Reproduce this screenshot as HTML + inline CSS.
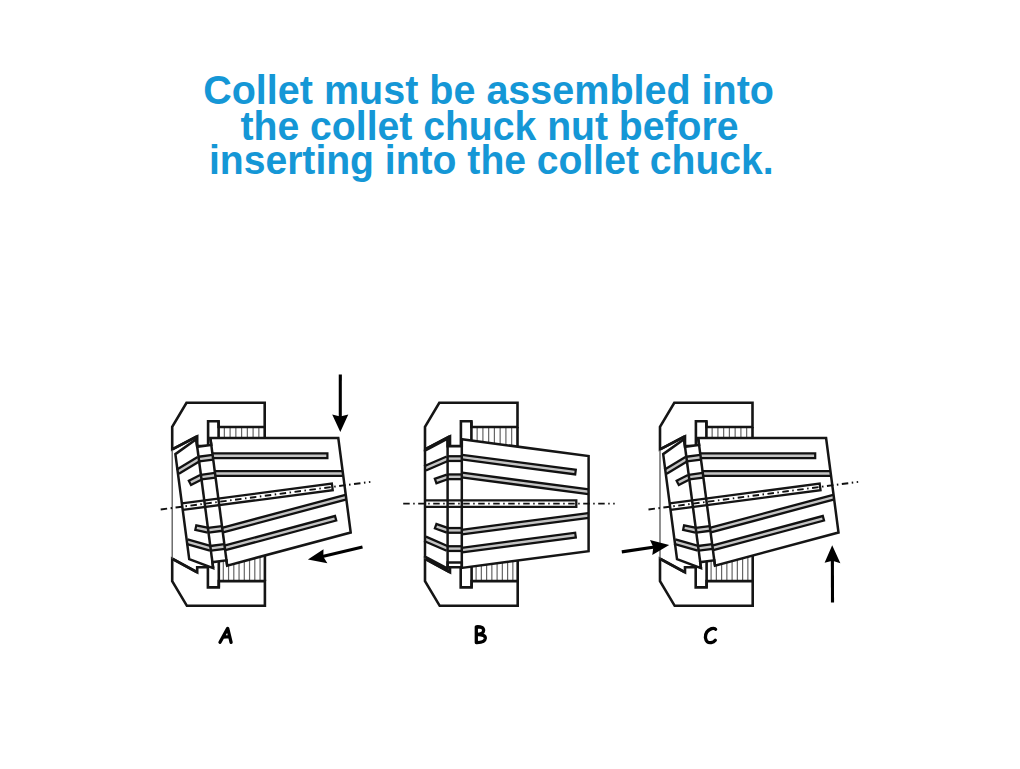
<!DOCTYPE html>
<html><head><meta charset="utf-8">
<style>
html,body{margin:0;padding:0;background:#fff;width:1020px;height:769px;overflow:hidden;position:relative}
.t{position:absolute;left:0;width:980px;text-align:center;font-family:"Liberation Sans",sans-serif;font-weight:bold;color:#1597d6;font-size:41.5px;line-height:35px;white-space:nowrap;transform-origin:490px 0}
svg{position:absolute;left:0;top:0;}
.o{fill:#fff;stroke:#151515;stroke-width:2.6;stroke-linejoin:miter}
.lip{stroke:#151515;stroke-width:2.7}
.ol{stroke:#151515;stroke-width:2.6;fill:none}
.thin{stroke:#555;stroke-width:1.3}
.kn{stroke:#666;stroke-width:1.2}
.cf{fill:#fff;stroke:none}
.cstroke{fill:none;stroke:#151515;stroke-width:2.5}
.cl{stroke:#151515;stroke-width:2.5}
.sb{stroke:#111;stroke-width:7;stroke-linecap:round}
.sw{stroke:#aaa;stroke-width:2.4;stroke-linecap:round}
.sbb{stroke:#111;stroke-width:7}
.swb{stroke:#c4c4c4;stroke-width:2.4}
.cs{fill:#fff;stroke:#151515;stroke-width:2.3}
.dd{stroke:#111;stroke-width:1.9;stroke-dasharray:6.5 3.5 1.5 3.5}
.ar{stroke:#000;stroke-width:3.1}
.ah{fill:#000}
.lb{fill:none;stroke:#000;stroke-width:3.3;stroke-linecap:round;stroke-linejoin:round}
</style></head><body>
<div class="t" style="top:72px;transform:translateX(-1.4px) scaleX(0.952)">Collet must be assembled into</div>
<div class="t" style="top:108px;transform:translateX(-0.5px) scaleX(0.943)">the collet chuck nut before</div>
<div class="t" style="top:142px;transform:translateX(1.3px) scaleX(0.942)">inserting into the collet chuck.</div>
<svg width="1020" height="769" viewBox="0 0 1020 769">
<line x1="224.35" y1="427" x2="224.35" y2="470" class="kn"/>
<line x1="230.1" y1="427" x2="230.1" y2="470" class="kn"/>
<line x1="235.85" y1="427" x2="235.85" y2="470" class="kn"/>
<line x1="241.6" y1="427" x2="241.6" y2="470" class="kn"/>
<line x1="247.35" y1="427" x2="247.35" y2="470" class="kn"/>
<line x1="253.1" y1="427" x2="253.1" y2="470" class="kn"/>
<line x1="258.85" y1="427" x2="258.85" y2="470" class="kn"/>
<line x1="223.3" y1="581.1" x2="223.3" y2="540" class="kn"/>
<line x1="228.55" y1="581.1" x2="228.55" y2="540" class="kn"/>
<line x1="233.8" y1="581.1" x2="233.8" y2="540" class="kn"/>
<line x1="239.05" y1="581.1" x2="239.05" y2="540" class="kn"/>
<line x1="244.3" y1="581.1" x2="244.3" y2="540" class="kn"/>
<line x1="249.55" y1="581.1" x2="249.55" y2="540" class="kn"/>
<line x1="254.8" y1="581.1" x2="254.8" y2="540" class="kn"/>
<line x1="260.05" y1="581.1" x2="260.05" y2="540" class="kn"/>
<polygon points="186.5,402.8 264.7,402.8 264.7,427 218.6,427 218.6,421.2 208.1,421.2 208.1,446.1 197.2,446.1 197.2,436.3 172.2,449.4 172.2,426.8" class="o"/>
<polygon points="186.9,605.8 264.9,605.8 264.9,581.1 218.8,581.1 218.8,587.4 207.9,587.4 207.9,567.3 197.2,567.3 197.2,572.3 172.2,558.7 172.2,581.1" class="o"/>
<path d="M264.7,427V470M218.6,421.2V470M264.9,581.1V540M218.8,587.4V540" class="ol"/>
<line x1="172.2" y1="449.4" x2="197.2" y2="436.3" class="lip"/>
<line x1="172.2" y1="558.7" x2="197.2" y2="572.3" class="lip"/>
<line x1="172.2" y1="450" x2="172.2" y2="558.7" class="thin"/>
<g transform="translate(344.5,485.3) rotate(-7.5)">
<polygon points="-163.6,-53 -141,-65 -141,-57.4 -126.8,-57.4 -126.8,-64.3 0,-47.6 0,47.6 -126.8,64.3 -126.8,59 -141,59 -141,65 -163.6,53" class="cf"/>
<line x1="-126.8" y1="-46.5" x2="-12" y2="-31.38" class="sbb"/>
<line x1="-126.8" y1="-46.5" x2="-14.18" y2="-31.67" class="swb"/>
<line x1="-126.8" y1="-28.55" x2="0" y2="-11.85" class="sbb"/>
<line x1="-126.8" y1="-28.55" x2="0" y2="-11.85" class="swb"/>
<line x1="-141" y1="-45" x2="-126.8" y2="-45" class="sbb"/>
<line x1="-141" y1="-45" x2="-126.8" y2="-45" class="swb"/>
<line x1="-141" y1="-26.8" x2="-126.8" y2="-26.8" class="sbb"/>
<line x1="-141" y1="-26.8" x2="-126.8" y2="-26.8" class="swb"/>
<line x1="-163.6" y1="-35.2" x2="-141" y2="-45" class="sbb"/>
<line x1="-163.6" y1="-35.2" x2="-141" y2="-45" class="swb"/>
<line x1="-141" y1="-26.8" x2="-154" y2="-22.2" class="sbb"/>
<line x1="-141" y1="-26.8" x2="-151.93" y2="-22.93" class="swb"/>
<line x1="-126.8" y1="46.5" x2="-12" y2="31.38" class="sbb"/>
<line x1="-126.8" y1="46.5" x2="-14.18" y2="31.67" class="swb"/>
<line x1="-126.8" y1="28.55" x2="0" y2="11.85" class="sbb"/>
<line x1="-126.8" y1="28.55" x2="0" y2="11.85" class="swb"/>
<line x1="-141" y1="45" x2="-126.8" y2="45" class="sbb"/>
<line x1="-141" y1="45" x2="-126.8" y2="45" class="swb"/>
<line x1="-141" y1="26.8" x2="-126.8" y2="26.8" class="sbb"/>
<line x1="-141" y1="26.8" x2="-126.8" y2="26.8" class="swb"/>
<line x1="-163.6" y1="35.2" x2="-141" y2="45" class="sbb"/>
<line x1="-163.6" y1="35.2" x2="-141" y2="45" class="swb"/>
<line x1="-141" y1="26.8" x2="-154" y2="22.2" class="sbb"/>
<line x1="-141" y1="26.8" x2="-151.93" y2="22.93" class="swb"/>
<path d="M-163.6,-3.3 H-12.3 V3.3 H-163.6" class="cs"/>
<polygon points="-163.6,-53 -141,-65 -141,-57.4 -126.8,-57.4 -126.8,-64.3 0,-47.6 0,47.6 -126.8,64.3 -126.8,59 -141,59 -141,65 -163.6,53" class="cstroke"/>
<line x1="-141" y1="-65" x2="-141" y2="65" class="cl"/>
<line x1="-126.8" y1="-64.3" x2="-126.8" y2="64.3" class="cl"/>
<line x1="-185.4" y1="0" x2="26.1" y2="0" class="dd"/>
</g>
<line x1="477.15" y1="427" x2="477.15" y2="470" class="kn"/>
<line x1="482.9" y1="427" x2="482.9" y2="470" class="kn"/>
<line x1="488.65" y1="427" x2="488.65" y2="470" class="kn"/>
<line x1="494.4" y1="427" x2="494.4" y2="470" class="kn"/>
<line x1="500.15" y1="427" x2="500.15" y2="470" class="kn"/>
<line x1="505.9" y1="427" x2="505.9" y2="470" class="kn"/>
<line x1="511.65" y1="427" x2="511.65" y2="470" class="kn"/>
<line x1="476.1" y1="581.1" x2="476.1" y2="540" class="kn"/>
<line x1="481.35" y1="581.1" x2="481.35" y2="540" class="kn"/>
<line x1="486.6" y1="581.1" x2="486.6" y2="540" class="kn"/>
<line x1="491.85" y1="581.1" x2="491.85" y2="540" class="kn"/>
<line x1="497.1" y1="581.1" x2="497.1" y2="540" class="kn"/>
<line x1="502.35" y1="581.1" x2="502.35" y2="540" class="kn"/>
<line x1="507.6" y1="581.1" x2="507.6" y2="540" class="kn"/>
<line x1="512.85" y1="581.1" x2="512.85" y2="540" class="kn"/>
<polygon points="439.3,402.8 517.5,402.8 517.5,427 471.4,427 471.4,421.2 460.9,421.2 460.9,446.1 450,446.1 450,436.3 425,449.4 425,426.8" class="o"/>
<polygon points="439.7,605.8 517.7,605.8 517.7,581.1 471.6,581.1 471.6,587.4 460.7,587.4 460.7,567.3 450,567.3 450,572.3 425,558.7 425,581.1" class="o"/>
<path d="M517.5,427V470M471.4,421.2V470M517.7,581.1V540M471.6,587.4V540" class="ol"/>
<line x1="425" y1="449.4" x2="450" y2="436.3" class="lip"/>
<line x1="425" y1="558.7" x2="450" y2="572.3" class="lip"/>
<line x1="425" y1="450" x2="425" y2="558.7" class="thin"/>
<g transform="translate(588.6,503.6) rotate(0)">
<polygon points="-163.6,-53 -141,-65 -141,-57.4 -126.8,-57.4 -126.8,-64.3 0,-47.6 0,47.6 -126.8,64.3 -126.8,59 -141,59 -141,65 -163.6,53" class="cf"/>
<line x1="-126.8" y1="-46.5" x2="-12" y2="-31.38" class="sbb"/>
<line x1="-126.8" y1="-46.5" x2="-14.18" y2="-31.67" class="swb"/>
<line x1="-126.8" y1="-28.55" x2="0" y2="-11.85" class="sbb"/>
<line x1="-126.8" y1="-28.55" x2="0" y2="-11.85" class="swb"/>
<line x1="-141" y1="-45" x2="-126.8" y2="-45" class="sbb"/>
<line x1="-141" y1="-45" x2="-126.8" y2="-45" class="swb"/>
<line x1="-141" y1="-26.8" x2="-126.8" y2="-26.8" class="sbb"/>
<line x1="-141" y1="-26.8" x2="-126.8" y2="-26.8" class="swb"/>
<line x1="-163.6" y1="-35.2" x2="-141" y2="-45" class="sbb"/>
<line x1="-163.6" y1="-35.2" x2="-141" y2="-45" class="swb"/>
<line x1="-141" y1="-26.8" x2="-154" y2="-22.2" class="sbb"/>
<line x1="-141" y1="-26.8" x2="-151.93" y2="-22.93" class="swb"/>
<line x1="-126.8" y1="46.5" x2="-12" y2="31.38" class="sbb"/>
<line x1="-126.8" y1="46.5" x2="-14.18" y2="31.67" class="swb"/>
<line x1="-126.8" y1="28.55" x2="0" y2="11.85" class="sbb"/>
<line x1="-126.8" y1="28.55" x2="0" y2="11.85" class="swb"/>
<line x1="-141" y1="45" x2="-126.8" y2="45" class="sbb"/>
<line x1="-141" y1="45" x2="-126.8" y2="45" class="swb"/>
<line x1="-141" y1="26.8" x2="-126.8" y2="26.8" class="sbb"/>
<line x1="-141" y1="26.8" x2="-126.8" y2="26.8" class="swb"/>
<line x1="-163.6" y1="35.2" x2="-141" y2="45" class="sbb"/>
<line x1="-163.6" y1="35.2" x2="-141" y2="45" class="swb"/>
<line x1="-141" y1="26.8" x2="-154" y2="22.2" class="sbb"/>
<line x1="-141" y1="26.8" x2="-151.93" y2="22.93" class="swb"/>
<path d="M-163.6,-3.3 H-12.3 V3.3 H-163.6" class="cs"/>
<polygon points="-163.6,-53 -141,-65 -141,-57.4 -126.8,-57.4 -126.8,-64.3 0,-47.6 0,47.6 -126.8,64.3 -126.8,59 -141,59 -141,65 -163.6,53" class="cstroke"/>
<line x1="-141" y1="-65" x2="-141" y2="65" class="cl"/>
<line x1="-126.8" y1="-64.3" x2="-126.8" y2="64.3" class="cl"/>
<line x1="-185.4" y1="0" x2="26.1" y2="0" class="dd"/>
</g>
<line x1="712.15" y1="427" x2="712.15" y2="470" class="kn"/>
<line x1="717.9" y1="427" x2="717.9" y2="470" class="kn"/>
<line x1="723.65" y1="427" x2="723.65" y2="470" class="kn"/>
<line x1="729.4" y1="427" x2="729.4" y2="470" class="kn"/>
<line x1="735.15" y1="427" x2="735.15" y2="470" class="kn"/>
<line x1="740.9" y1="427" x2="740.9" y2="470" class="kn"/>
<line x1="746.65" y1="427" x2="746.65" y2="470" class="kn"/>
<line x1="711.1" y1="581.1" x2="711.1" y2="540" class="kn"/>
<line x1="716.35" y1="581.1" x2="716.35" y2="540" class="kn"/>
<line x1="721.6" y1="581.1" x2="721.6" y2="540" class="kn"/>
<line x1="726.85" y1="581.1" x2="726.85" y2="540" class="kn"/>
<line x1="732.1" y1="581.1" x2="732.1" y2="540" class="kn"/>
<line x1="737.35" y1="581.1" x2="737.35" y2="540" class="kn"/>
<line x1="742.6" y1="581.1" x2="742.6" y2="540" class="kn"/>
<line x1="747.85" y1="581.1" x2="747.85" y2="540" class="kn"/>
<polygon points="674.3,402.8 752.5,402.8 752.5,427 706.4,427 706.4,421.2 695.9,421.2 695.9,446.1 685,446.1 685,436.3 660,449.4 660,426.8" class="o"/>
<polygon points="674.7,605.8 752.7,605.8 752.7,581.1 706.6,581.1 706.6,587.4 695.7,587.4 695.7,567.3 685,567.3 685,572.3 660,558.7 660,581.1" class="o"/>
<path d="M752.5,427V470M706.4,421.2V470M752.7,581.1V540M706.6,587.4V540" class="ol"/>
<line x1="660" y1="449.4" x2="685" y2="436.3" class="lip"/>
<line x1="660" y1="558.7" x2="685" y2="572.3" class="lip"/>
<line x1="660" y1="450" x2="660" y2="558.7" class="thin"/>
<g transform="translate(832.3,485.3) rotate(-7.5)">
<polygon points="-163.6,-53 -141,-65 -141,-57.4 -126.8,-57.4 -126.8,-64.3 0,-47.6 0,47.6 -126.8,64.3 -126.8,59 -141,59 -141,65 -163.6,53" class="cf"/>
<line x1="-126.8" y1="-46.5" x2="-12" y2="-31.38" class="sbb"/>
<line x1="-126.8" y1="-46.5" x2="-14.18" y2="-31.67" class="swb"/>
<line x1="-126.8" y1="-28.55" x2="0" y2="-11.85" class="sbb"/>
<line x1="-126.8" y1="-28.55" x2="0" y2="-11.85" class="swb"/>
<line x1="-141" y1="-45" x2="-126.8" y2="-45" class="sbb"/>
<line x1="-141" y1="-45" x2="-126.8" y2="-45" class="swb"/>
<line x1="-141" y1="-26.8" x2="-126.8" y2="-26.8" class="sbb"/>
<line x1="-141" y1="-26.8" x2="-126.8" y2="-26.8" class="swb"/>
<line x1="-163.6" y1="-35.2" x2="-141" y2="-45" class="sbb"/>
<line x1="-163.6" y1="-35.2" x2="-141" y2="-45" class="swb"/>
<line x1="-141" y1="-26.8" x2="-154" y2="-22.2" class="sbb"/>
<line x1="-141" y1="-26.8" x2="-151.93" y2="-22.93" class="swb"/>
<line x1="-126.8" y1="46.5" x2="-12" y2="31.38" class="sbb"/>
<line x1="-126.8" y1="46.5" x2="-14.18" y2="31.67" class="swb"/>
<line x1="-126.8" y1="28.55" x2="0" y2="11.85" class="sbb"/>
<line x1="-126.8" y1="28.55" x2="0" y2="11.85" class="swb"/>
<line x1="-141" y1="45" x2="-126.8" y2="45" class="sbb"/>
<line x1="-141" y1="45" x2="-126.8" y2="45" class="swb"/>
<line x1="-141" y1="26.8" x2="-126.8" y2="26.8" class="sbb"/>
<line x1="-141" y1="26.8" x2="-126.8" y2="26.8" class="swb"/>
<line x1="-163.6" y1="35.2" x2="-141" y2="45" class="sbb"/>
<line x1="-163.6" y1="35.2" x2="-141" y2="45" class="swb"/>
<line x1="-141" y1="26.8" x2="-154" y2="22.2" class="sbb"/>
<line x1="-141" y1="26.8" x2="-151.93" y2="22.93" class="swb"/>
<path d="M-163.6,-3.3 H-12.3 V3.3 H-163.6" class="cs"/>
<polygon points="-163.6,-53 -141,-65 -141,-57.4 -126.8,-57.4 -126.8,-64.3 0,-47.6 0,47.6 -126.8,64.3 -126.8,59 -141,59 -141,65 -163.6,53" class="cstroke"/>
<line x1="-141" y1="-65" x2="-141" y2="65" class="cl"/>
<line x1="-126.8" y1="-64.3" x2="-126.8" y2="64.3" class="cl"/>
<line x1="-185.4" y1="0" x2="26.1" y2="0" class="dd"/>
</g>
<line x1="340.3" y1="374.4" x2="340.27" y2="422.71" class="ar"/>
<polygon points="340.3,432 332.2,414.4 340.26,416.51 348.3,414.4" class="ah"/>
<line x1="362.5" y1="547" x2="317.17" y2="557.76" class="ar"/>
<polygon points="307.9,559.4 323.5,549.3 323.34,556.67 327.4,563.3" class="ah"/>
<line x1="621.8" y1="551.9" x2="659.67" y2="546.32" class="ar"/>
<polygon points="669.2,545 650,540 653.32,547.2 652.3,555" class="ah"/>
<line x1="832.5" y1="602.5" x2="832.36" y2="554.6" class="ar"/>
<polygon points="832.2,545.2 824.6,562.7 832.46,560.86 840.4,563.3" class="ah"/>
<path d="M220,642.3 L227.7,628.4 L231.1,642.3 M223.2,637 L229.7,636.6" class="lb"/>
<path d="M476.3,642.6 L476.3,626.8 Q483.8,626.3 483.6,630.6 Q483.2,634 477.5,634.3 Q485.6,634.8 485.3,638.4 Q484.8,642.8 476.3,642.6" class="lb"/>
<path d="M715.6,629.2 Q714.8,627.8 711.5,628.6 Q705.2,631 705.4,637.6 Q706.2,643.4 711.2,642.6 Q713.8,642.1 715.3,640.2" class="lb"/>
</svg>
</body></html>
